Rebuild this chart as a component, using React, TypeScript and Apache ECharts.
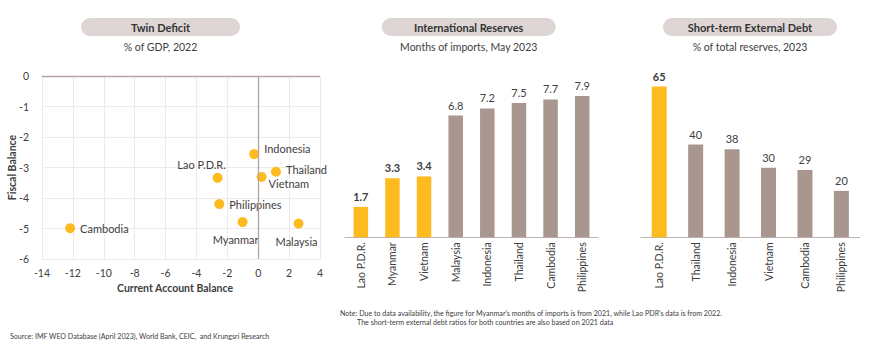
import React, { useEffect, useRef } from "react";
import * as echarts from "echarts";

// ---------- data ----------
const scatterNames = ["Indonesia", "Thailand", "Vietnam", "Lao P.D.R.", "Philippines", "Myanmar", "Malaysia", "Cambodia"];
const currentAccount = [-0.26, 1.15, 0.22, -2.63, -2.52, -1.01, 2.61, -12.18];
const fiscalBalance = [-2.56, -3.14, -3.31, -3.34, -4.2, -4.79, -4.84, -4.99];

const reserveCats = ["Lao P.D.R.", "Myanmar", "Vietnam", "Malaysia", "Indonesia", "Thailand", "Cambodia", "Philippines"];
const reserveVals = [1.7, 3.3, 3.4, 6.8, 7.2, 7.5, 7.7, 7.9];
const reserveHighlight = [true, true, true, false, false, false, false, false];

const debtCats = ["Lao P.D.R.", "Thailand", "Indonesia", "Vietnam", "Cambodia", "Philippines"];
const debtVals = [65, 40, 38, 30, 29, 20];
const debtHighlight = [true, false, false, false, false, false];

const xTicks = [-14, 4, 2];
const yTicks = [-6, 0, 1];

const YELLOW = "#FDBB1F";
const BROWN = "#A9968F";
const TXT = "#404040";
const FONT = "Lato, 'Open Sans', sans-serif";

const labelPlace: Record<string, { position: string; offset: number[] }> = {
  Indonesia: { position: "right", offset: [0, -6] },
  Thailand: { position: "right", offset: [0, -2] },
  Vietnam: { position: "right", offset: [-3, 7] },
  "Lao P.D.R.": { position: "top", offset: [-16, 2] },
  Philippines: { position: "right", offset: [0, 0] },
  Myanmar: { position: "bottom", offset: [-7, 2] },
  Malaysia: { position: "bottom", offset: [-2, 2] },
  Cambodia: { position: "right", offset: [0, 0] },
};

function pill(cx: number, w: number, title: string, sub: string) {
  return [
    {
      type: "rect",
      shape: { x: cx - w / 2, y: 18, width: w, height: 18, r: 9 },
      style: { fill: "#DDD6D5" },
    },
    {
      type: "text",
      x: cx,
      y: 27,
      style: { text: title, font: `bold 11px ${FONT}`, fill: "#333333", align: "center", verticalAlign: "middle" },
    },
    {
      type: "text",
      x: cx,
      y: 47,
      style: { text: sub, font: `10.5px ${FONT}`, fill: TXT, align: "center", verticalAlign: "middle" },
    },
  ];
}

export default function App() {
  const ref = useRef<HTMLDivElement>(null);
  useEffect(() => {
    document.body.style.margin = "0";
    const chart = echarts.init(ref.current!, null, { renderer: "svg" });
    const barItems = (vals: number[], hl: boolean[]) =>
      vals.map((v, i) => ({
        value: v,
        itemStyle: { color: hl[i] ? YELLOW : BROWN },
        label: { fontWeight: hl[i] ? "bold" : "normal" },
      }));
    const catAxis = (gi: number, cats: string[]) => ({
      type: "category",
      gridIndex: gi,
      data: cats,
      axisLine: { lineStyle: { color: "#BDB3B1", width: 1 } },
      axisTick: { show: false },
      axisLabel: { rotate: 90, color: TXT, fontSize: 10.5, fontFamily: FONT, margin: 5, interval: 0 },
    });
    const noteFont = `7.1px ${FONT}`;
    chart.setOption({
      animation: false,
      textStyle: { fontFamily: FONT },
      grid: [
        { left: 42, top: 76, width: 278, height: 183 },
        { left: 345, top: 58.3, width: 253, height: 179 },
        { left: 641, top: 51.7, width: 218.6, height: 185.6 },
      ],
      xAxis: [
        {
          type: "value",
          gridIndex: 0,
          min: xTicks[0],
          max: xTicks[1],
          interval: xTicks[2],
          axisLine: { show: false, onZero: false },
          axisTick: { show: false },
          splitLine: { lineStyle: { color: "#EEEAEA" } },
          axisLabel: { color: TXT, fontSize: 10.5, margin: 8 },
          name: "Current Account Balance",
          nameLocation: "middle",
          nameGap: 21,
          nameTextStyle: { fontWeight: "bold", fontSize: 10.5, color: TXT, padding: [0, 12, 0, 0] },
        },
        catAxis(1, reserveCats),
        catAxis(2, debtCats),
      ],
      yAxis: [
        {
          type: "value",
          gridIndex: 0,
          min: yTicks[0],
          max: yTicks[1],
          interval: yTicks[2],
          axisLine: { show: false, onZero: false },
          axisTick: { show: false },
          splitLine: { lineStyle: { color: "#EEEAEA" } },
          axisLabel: { color: TXT, fontSize: 10.5, margin: 13 },
          name: "Fiscal Balance",
          nameLocation: "middle",
          nameGap: 25,
          nameMoveOverlap: false,
          nameTextStyle: { fontWeight: "bold", fontSize: 10.5, color: TXT },
        },
        { type: "value", gridIndex: 1, min: 0, max: 10, show: false },
        { type: "value", gridIndex: 2, min: 0, max: 80, show: false },
      ],
      series: [
        {
          type: "scatter",
          xAxisIndex: 0,
          yAxisIndex: 0,
          symbolSize: 10,
          itemStyle: { color: YELLOW, opacity: 1 },
          data: scatterNames.map((n, i) => ({
            name: n,
            value: [currentAccount[i], fiscalBalance[i]],
            label: {
              show: true,
              formatter: n,
              position: labelPlace[n].position,
              offset: labelPlace[n].offset,
              distance: 5,
              color: TXT,
              fontSize: 11,
              fontFamily: FONT,
            },
          })),
          markLine: {
            silent: true,
            symbol: "none",
            label: { show: false },
            lineStyle: { color: "#B3A5A3", type: "solid", width: 1.3 },
            data: [{ xAxis: 0 }, { yAxis: 0 }],
          },
        },
        {
          type: "bar",
          xAxisIndex: 1,
          yAxisIndex: 1,
          barWidth: 14.5,
          data: barItems(reserveVals, reserveHighlight),
          label: { show: true, position: "top", distance: 5, color: TXT, fontSize: 11, fontFamily: FONT },
        },
        {
          type: "bar",
          xAxisIndex: 2,
          yAxisIndex: 2,
          barWidth: 15,
          data: barItems(debtVals, debtHighlight),
          label: { show: true, position: "top", distance: 5, color: TXT, fontSize: 11, fontFamily: FONT },
        },
      ],
      graphic: [
        ...pill(160.5, 159, "Twin Deficit", "% of GDP, 2022"),
        ...pill(468.7, 174, "International Reserves", "Months of imports, May 2023"),
        ...pill(750, 174, "Short-term External Debt", "% of total reserves, 2023"),
        {
          type: "text",
          x: 340,
          y: 313,
          style: {
            text: "Note: Due to data availability, the figure for Myanmar's months of imports is from 2021, while Lao PDR's data is from 2022.",
            font: noteFont,
            fill: TXT,
            verticalAlign: "middle",
          },
        },
        {
          type: "text",
          x: 357,
          y: 322.5,
          style: {
            text: "The short-term external debt ratios for both countries are also based on 2021 data",
            font: noteFont,
            fill: TXT,
            verticalAlign: "middle",
          },
        },
        {
          type: "text",
          x: 10,
          y: 336.5,
          style: {
            text: "Source: IMF WEO Database (April 2023), World Bank, CEIC,  and Krungsri Research",
            font: noteFont,
            fill: TXT,
            verticalAlign: "middle",
          },
        },
      ],
    });
    return () => chart.dispose();
  }, []);
  return <div ref={ref} style={{ width: 870, height: 351 }} />;
}
